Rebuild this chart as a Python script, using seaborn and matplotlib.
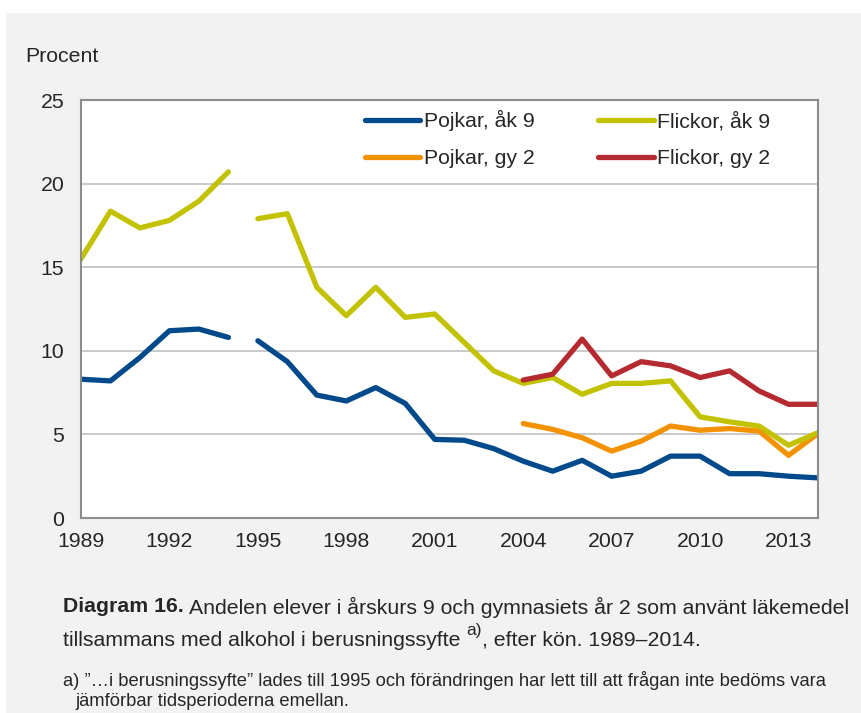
import numpy as np
import pandas as pd
import seaborn as sns
import matplotlib.pyplot as plt
from matplotlib.patches import Rectangle

years_ak9 = list(range(1989, 2015))
pojkar_ak9 = [8.3, 8.2, 9.6, 11.2, 11.3, 10.8, 10.6, 9.35, 7.35, 7.0, 7.8, 6.85, 4.7,
              4.65, 4.15, 3.4, 2.8, 3.45, 2.5, 2.8, 3.7, 3.7, 2.65, 2.65, 2.5, 2.4]
flickor_ak9 = [15.5, 18.35, 17.35, 17.8, 18.95, 20.7, 17.9, 18.2, 13.8, 12.1, 13.8, 12.0, 12.2,
               10.5, 8.8, 8.05, 8.4, 7.4, 8.05, 8.05, 8.2, 6.05, 5.75, 5.5, 4.35, 5.1]
years_gy2 = list(range(2004, 2015))
pojkar_gy2 = [5.65, 5.3, 4.8, 4.0, 4.6, 5.5, 5.25, 5.35, 5.2, 3.75, 5.05]
flickor_gy2 = [8.25, 8.6, 10.7, 8.5, 9.35, 9.1, 8.4, 8.8, 7.6, 6.8, 6.8]

series_order = ['Pojkar, åk 9', 'Pojkar, gy 2', 'Flickor, åk 9', 'Flickor, gy 2']
colors = {'Pojkar, åk 9': '#004a8c', 'Flickor, åk 9': '#c2c200',
          'Pojkar, gy 2': '#f39200', 'Flickor, gy 2': '#b52a30'}

# question wording changed 1995 -> lines are broken between 1994 and 1995
rows = []
for name, yrs, vals in [('Pojkar, åk 9', years_ak9, pojkar_ak9),
                        ('Flickor, åk 9', years_ak9, flickor_ak9),
                        ('Pojkar, gy 2', years_gy2, pojkar_gy2),
                        ('Flickor, gy 2', years_gy2, flickor_gy2)]:
    for yr, v in zip(yrs, vals):
        rows.append({'year': yr, 'value': v, 'series': name,
                     'segment': name + (' a' if yr < 1995 else ' b')})
df = pd.DataFrame(rows)

sns.set_style('white')
plt.rcParams['font.family'] = ['Liberation Sans', 'DejaVu Sans']
FS = 15.3

fig = plt.figure(figsize=(8.62, 7.13), dpi=100, facecolor='white')
fig.patches.append(Rectangle((6 / 862, 0), 1, 700 / 713, transform=fig.transFigure,
                             facecolor='#f2f2f2', edgecolor='none', zorder=-10))
ax = fig.add_axes([81 / 862, 1 - 518 / 713, 737 / 862, 418 / 713])
ax.set_facecolor('white')

sns.lineplot(data=df, x='year', y='value', hue='series', units='segment', estimator=None,
             hue_order=series_order, palette=colors, linewidth=3.8,
             solid_capstyle='round', ax=ax)

ax.set_xlim(1989, 2014)
ax.set_ylim(0, 25)
ax.set_yticks([0, 5, 10, 15, 20, 25])
ax.set_xticks(years_ak9)
ax.set_xticklabels([str(y) if (y - 1989) % 3 == 0 else '' for y in years_ak9])
ax.tick_params(axis='x', length=5, width=1.5, color='#8c8c8c', direction='out',
               pad=5, labelsize=FS)
ax.tick_params(axis='y', length=0, pad=12, labelsize=FS)
ax.set_xlabel('')
ax.set_ylabel('')
for y in [5, 10, 15, 20]:
    ax.axhline(y, color='#c0c0c0', lw=1.2, zorder=0)
for s in ax.spines.values():
    s.set_visible(True)
    s.set_color('#8c8c8c')
    s.set_linewidth(1.5)

ax.legend(ncol=2, loc='upper left', bbox_to_anchor=(0.385, 0.976), frameon=False,
          fontsize=FS, handlelength=2.6, handletextpad=0.18, columnspacing=3.0,
          labelspacing=0.85, borderpad=0, borderaxespad=0)

fig.text(25 / 862, 1 - 57 / 713, 'Procent', fontsize=FS, va='center', ha='left')

# caption
renderer = fig.canvas.get_renderer()
t1 = fig.text(63 / 862, 1 - 607 / 713, 'Diagram 16.', fontsize=FS, fontweight='bold',
              va='center', ha='left')
bb = t1.get_window_extent(renderer)
fig.text(bb.x1 / 862 + 5 / 862, 1 - 607 / 713,
         'Andelen elever i årskurs 9 och gymnasiets år 2 som använt läkemedel',
         fontsize=FS, va='center', ha='left')
t2 = fig.text(63 / 862, 1 - 640 / 713, 'tillsammans med alkohol i berusningssyfte ',
              fontsize=FS, va='center', ha='left')
bb2 = t2.get_window_extent(renderer)
t3 = fig.text(bb2.x1 / 862, 1 - 631 / 713, 'a)', fontsize=12.5, va='center', ha='left')
bb3 = t3.get_window_extent(renderer)
fig.text(bb3.x1 / 862, 1 - 640 / 713, ', efter kön. 1989–2014.',
         fontsize=FS, va='center', ha='left')
fig.text(63 / 862, 1 - 681 / 713,
         'a) ”…i berusningssyfte” lades till 1995 och förändringen har lett till att frågan inte bedöms vara',
         fontsize=13.2, va='center', ha='left')
fig.text(75 / 862, 1 - 701 / 713, 'jämförbar tidsperioderna emellan.',
         fontsize=13.2, va='center', ha='left')

fig.savefig('out.png', dpi=100, facecolor=fig.get_facecolor())
